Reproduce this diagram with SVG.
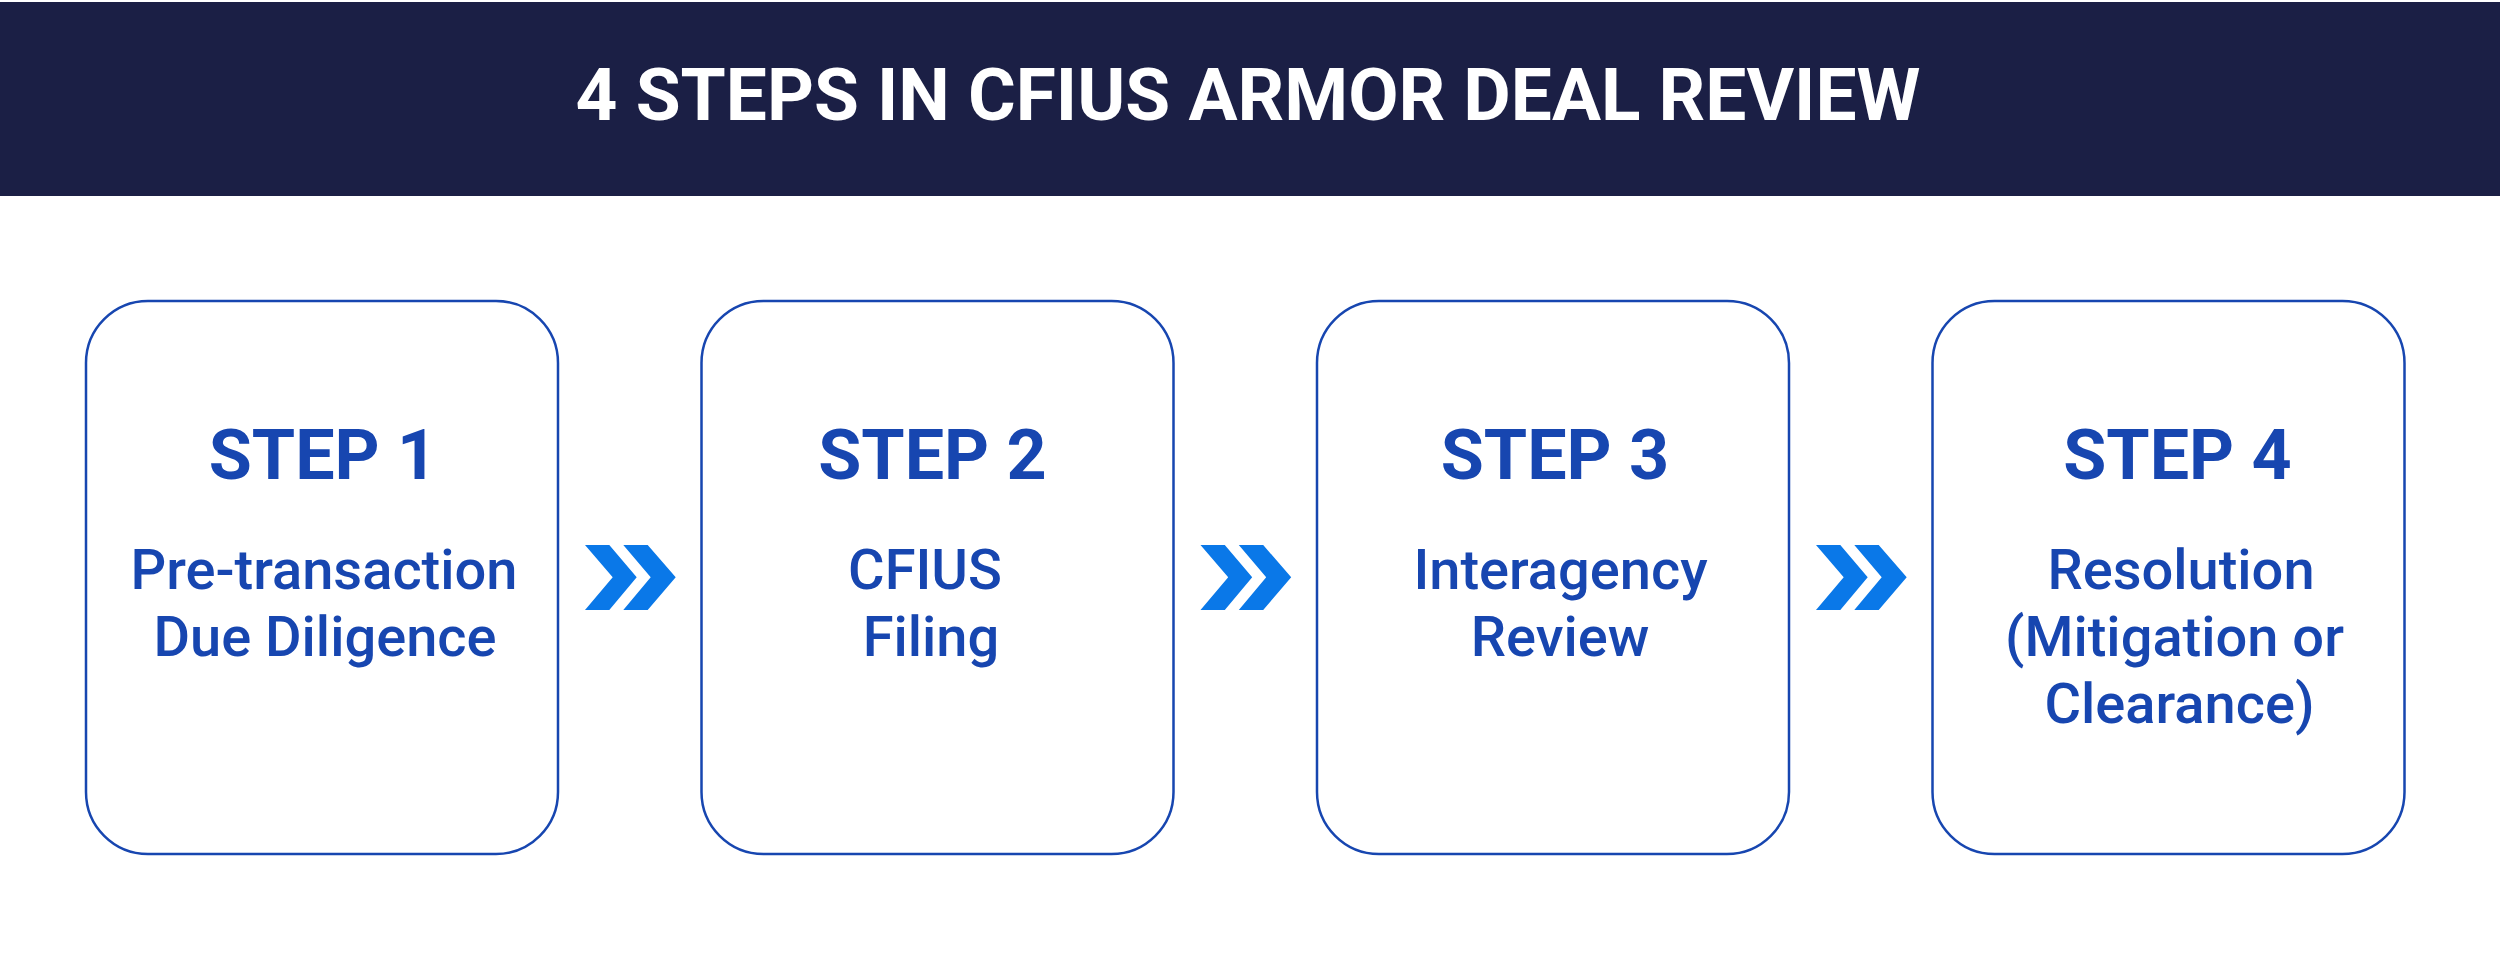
<svg xmlns="http://www.w3.org/2000/svg" width="2500" height="953" viewBox="0 0 2500 953">
<defs>
<style>
.hdr{fill:#1B1F45}
.title{font-family:Roboto,"Liberation Sans",sans-serif;font-weight:700;font-size:73px;fill:#FFFFFF;text-anchor:middle}
.box{fill:#FFFFFF;stroke:#1746B0;stroke-width:2.5}
.step{font-family:Roboto,"Liberation Sans",sans-serif;font-weight:700;font-size:70px;fill:#1746B0;text-anchor:middle}
.body{font-family:Roboto,"Liberation Sans",sans-serif;font-weight:500;font-size:56px;fill:#1746B0;text-anchor:middle}
.chev{fill:#0A78E8}
</style>
<g id="chevron">
<polygon points="0,0 24.3,0 51.7,32.3 24.3,65 0,65 27.7,32.3"/>
<polygon points="38.3,0 62.7,0 90.7,32.3 62.7,65 38.3,65 65.7,32.3"/>
</g>
</defs>
<rect width="2500" height="953" fill="#FFFFFF"/>
<g id="header">
<rect class="hdr" x="0" y="2" width="2500" height="194"/>
<text class="title" x="1248" y="120">4 STEPS IN CFIUS ARMOR DEAL REVIEW</text>
</g>
<g id="step1">
<rect class="box" x="86" y="301" width="472" height="553" rx="62" ry="62"/>
<text class="step" x="323" y="478.5">STEP 1</text>
<text class="body" x="324" y="589">Pre-transaction</text>
<text class="body" x="325" y="656">Due Diligence</text>
</g>
<g id="step2">
<rect class="box" x="701.5" y="301" width="472" height="553" rx="62" ry="62"/>
<text class="step" x="932.5" y="479">STEP 2</text>
<text class="body" x="925" y="588.5">CFIUS</text>
<text class="body" x="931" y="655.5">Filing</text>
</g>
<g id="step3">
<rect class="box" x="1317" y="301" width="472" height="553" rx="62" ry="62"/>
<text class="step" x="1555" y="479">STEP 3</text>
<text class="body" x="1560.5" y="588.5">Interagency</text>
<text class="body" x="1560" y="655.5">Review</text>
</g>
<g id="step4">
<rect class="box" x="1932.5" y="301" width="472" height="553" rx="62" ry="62"/>
<text class="step" x="2177.5" y="479">STEP 4</text>
<text class="body" x="2181" y="588.5">Resolution</text>
<text class="body" x="2174.5" y="655.5">(Mitigation or</text>
<text class="body" x="2179.5" y="722.5">Clearance)</text>
</g>
<g id="connectors" class="chev">
<use href="#chevron" x="585" y="545"/>
<use href="#chevron" x="1200.5" y="545"/>
<use href="#chevron" x="1816" y="545"/>
</g>
</svg>
